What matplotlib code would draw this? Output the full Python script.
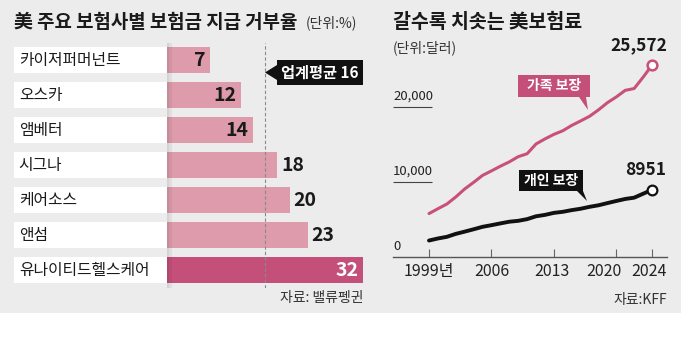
import matplotlib
matplotlib.use("Agg")
import matplotlib.pyplot as plt
import matplotlib.transforms as mtransforms
from matplotlib.patches import Rectangle, Polygon

# ====== DATA ======
insurers = ["카이저퍼머넌트", "오스카", "앰베터", "시그나", "케어소스", "앤섬", "유나이티드헬스케어"]
deny_rate = [7, 12, 14, 18, 20, 23, 32]
industry_avg = 16

years = list(range(1999, 2025))
family = [5791, 6438, 7061, 8003, 9068, 9950, 10880, 11480, 12106, 12680,
          13375, 13770, 15073, 15745, 16351, 16834, 17545, 18142, 18764,
          19616, 20576, 21342, 22221, 22463, 23968, 25572]
single = [2196, 2471, 2689, 3083, 3383, 3695, 4024, 4242, 4479, 4704,
          4824, 5049, 5429, 5615, 5884, 6025, 6251, 6435, 6690,
          6896, 7188, 7470, 7739, 7911, 8435, 8951]
xticks = [1999, 2006, 2013, 2020, 2024]
xticklabels = ["1999년", "2006", "2013", "2020", "2024"]
yticks = [0, 10000, 20000]
# ==================

plt.rcParams['font.family'] = ['Noto Sans CJK KR', 'DejaVu Sans']

BG = '#ececec'
PINK = '#dd9bab'
DARK_PINK = '#c4507a'
LINE_PINK = '#c8517c'
INK = '#1a1a1a'

W, H = 681, 351
fig = plt.figure(figsize=(W / 100, H / 100), dpi=100)
fig.patch.set_facecolor('white')


def box(l, t, r, b):
    # pixel box (from top-left) -> figure fraction rect
    return [l / W, 1 - b / H, (r - l) / W, (b - t) / H]


# background + titles (pixel coords)
bg = fig.add_axes([0, 0, 1, 1], zorder=0)
bg.set_xlim(0, W)
bg.set_ylim(H, 0)
bg.axis('off')
bg.add_patch(Rectangle((0, 0), W, 313, color=BG, lw=0))
bg.text(14, 22, "美 주요 보험사별 보험금 지급 거부율", fontsize=13.6, weight='bold',
        color=INK, va='center', ha='left')
bg.text(306, 23, "(단위:%)", fontsize=10, color='#333333', va='center', ha='left')
bg.text(393, 22, "갈수록 치솟는 美보험료", fontsize=14, weight='bold',
        color=INK, va='center', ha='left')
bg.text(393, 48, "(단위:달러)", fontsize=10, color='#333333', va='center', ha='left')

# -------- left: bar chart --------
axb = fig.add_axes(box(167, 42.5, 363, 287.5), zorder=2)
axb.set_facecolor('none')
axb.set_xlim(0, 32)
n = len(insurers)
axb.set_ylim(n - 0.5, -0.5)
axb.axis('off')
pos = list(range(n))
bh = 26 / 35

axb.barh(pos, [25.0] * n, left=-25.0, height=bh, color='white', clip_on=False, zorder=1)
axb.axvspan(0, 0.35, color='black', alpha=0.10, lw=0, zorder=3)
axb.axvspan(0.35, 0.75, color='black', alpha=0.05, lw=0, zorder=3)
colors = [DARK_PINK if v == max(deny_rate) else PINK for v in deny_rate]
axb.barh(pos, deny_rate, height=bh, color=colors, zorder=2)
axb.axvline(industry_avg, color='#8a8a8a', lw=0.8, ls=(0, (3, 2)), zorder=4)

for i, (name, v) in enumerate(zip(insurers, deny_rate)):
    axb.text(-24.2, i, name, fontsize=11.4, color=INK, va='center', ha='left')
    if v == max(deny_rate):
        axb.text(v - 0.8, i, str(v), fontsize=14, weight='bold', color='white',
                 va='center', ha='right', zorder=5)
    elif v < industry_avg:
        axb.text(v - 0.7, i, str(v), fontsize=14, weight='bold', color=INK,
                 va='center', ha='right', zorder=5)
    else:
        axb.text(v + 0.6, i, str(v), fontsize=14, weight='bold', color=INK,
                 va='center', ha='left', zorder=5)

axb.text(32, 6.8, "자료: 밸류펭귄", fontsize=10, color='#333333', va='center',
         ha='right', clip_on=False)

# -------- right: line chart --------
x0, x1 = 393, 667
px_per_year = (652 - 429) / 25
axl = fig.add_axes(box(x0, 40, x1, 257), zorder=2)
axl.set_facecolor('none')
xmin = 1999 - (429 - x0) / px_per_year
xmax = 2024 + (x1 - 652) / px_per_year
axl.set_xlim(xmin, xmax)
axl.set_ylim(0, (257 - 40) / 0.0075)
for s in ['top', 'right', 'left']:
    axl.spines[s].set_visible(False)
axl.spines['bottom'].set_color('#555555')
axl.spines['bottom'].set_linewidth(1.0)
axl.set_yticks([])
axl.set_xticks(xticks)
axl.set_xticklabels(xticklabels, fontsize=11.5, color='#222222')
axl.tick_params(axis='x', direction='in', length=6, width=0.8, color='#666666', pad=4)
# nudge crowded year labels like the original
for lab, dx in zip(axl.get_xticklabels(), [0, 0, -2, -12, -3]):
    lab.set_transform(lab.get_transform() +
                      mtransforms.ScaledTranslation(dx / 100, 0, fig.dpi_scale_trans))

axl.hlines([t for t in yticks if t > 0], xmin, xmin + 39 / px_per_year,
           color='#444444', lw=0.8)
for t in yticks:
    axl.annotate(f"{t:,}", xy=(xmin, t), xytext=(0, 4), textcoords='offset pixels',
                 fontsize=9.5, color='#222222', ha='left', va='bottom')

axl.plot(years, family, color=LINE_PINK, lw=2.2, solid_capstyle='round', zorder=3)
axl.plot(years, single, color='#111111', lw=2.8, solid_capstyle='round', zorder=3)
axl.plot(years[-1], family[-1], 'o', ms=7, mfc='white', mec=LINE_PINK, mew=1.8, zorder=4)
axl.plot(years[-1], single[-1], 'o', ms=7, mfc='white', mec='#111111', mew=1.6, zorder=4)
axl.annotate(f"{family[-1]:,}", xy=(years[-1], family[-1]), xytext=(-13, 11),
             textcoords='offset pixels', fontsize=12.5, weight='bold', color=INK,
             ha='center', va='bottom')
axl.annotate(f"{single[-1]}", xy=(years[-1], single[-1]), xytext=(-6, 11),
             textcoords='offset pixels', fontsize=12.5, weight='bold', color=INK,
             ha='center', va='bottom')

bg.text(667, 300, "자료:KFF", fontsize=10, color='#333333', va='center', ha='right')

# -------- callouts (pixel coords, on top) --------
ov = fig.add_axes([0, 0, 1, 1], zorder=6)
ov.set_facecolor('none')
ov.set_xlim(0, W)
ov.set_ylim(H, 0)
ov.axis('off')

ov.add_patch(Polygon([(265, 72.5), (277, 65), (277, 60), (363, 60), (363, 85),
                      (277, 85), (277, 80)], closed=True, color='#111111', lw=0))
ov.text(320, 73, "업계평균 16", fontsize=11, weight='bold', color='white',
        va='center', ha='center')

ov.add_patch(Polygon([(518, 75), (590, 75), (590, 97), (586, 97), (588, 110),
                      (579, 97), (518, 97)], closed=True, color=DARK_PINK, lw=0))
ov.text(554, 86, "가족 보장", fontsize=10, weight='bold', color='white',
        va='center', ha='center')

ov.add_patch(Polygon([(519, 170), (583, 170), (583, 191), (587, 201), (577, 191),
                      (519, 191)], closed=True, color='#111111', lw=0))
ov.text(551, 180.5, "개인 보장", fontsize=10, weight='bold', color='white',
        va='center', ha='center')

fig.savefig("out.png", dpi=100, facecolor=fig.get_facecolor())
